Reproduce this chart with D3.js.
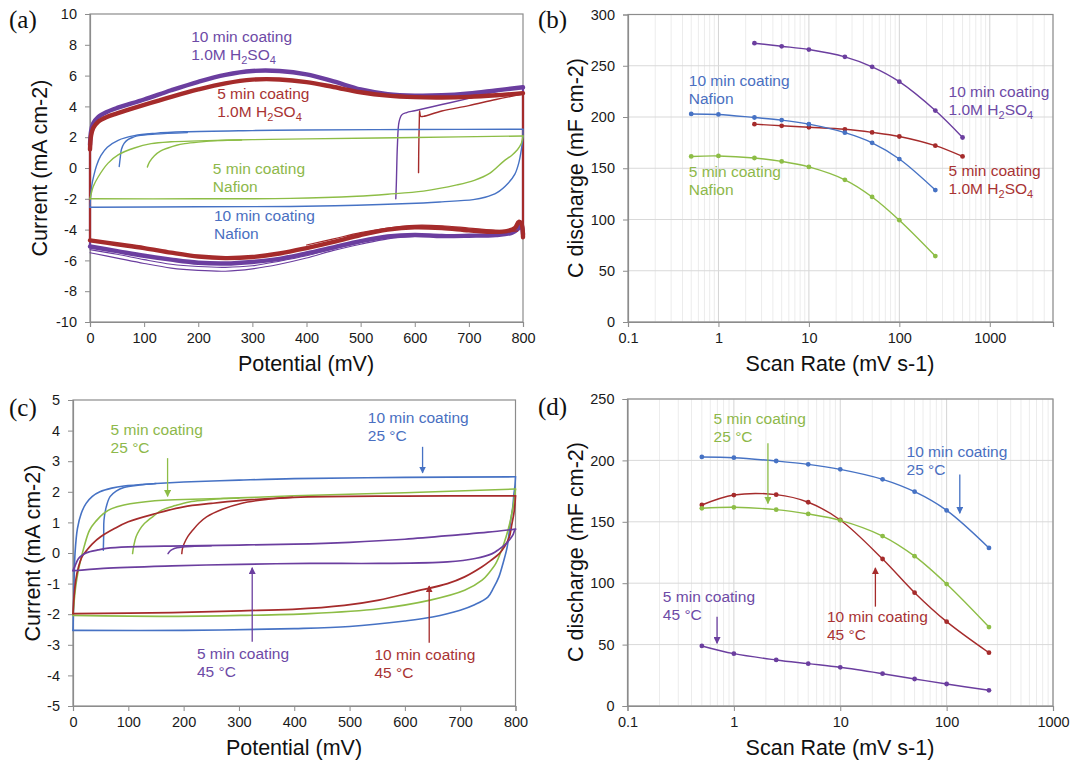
<!DOCTYPE html>
<html><head><meta charset="utf-8">
<script src="https://cdn.jsdelivr.net/npm/d3@7"></script>
<style>
body{margin:0;background:#fff}
svg{display:block}
text{font-family:"Liberation Sans",Arial,Helvetica,sans-serif}
</style>
</head><body>
<svg id="chart" width="1074" height="763"></svg>
<script>
// ---------------- DATA ----------------
// Panel (a): CV curves, [potential mV, current mA cm-2]
const a_purpleLoop = [[0,1.5],[2,2.4],[6,2.9],[15,3.3],[30,3.62],[50,3.9],[100,4.45],[150,5.05],[200,5.6],[250,6.05],[300,6.3],[350,6.3],[400,6.08],[450,5.62],[500,5.1],[550,4.8],[600,4.7],[650,4.72],[700,4.84],[750,5.04],[800,5.24],[800,-4.3],[797,-3.7],[792,-3.9],[780,-4.2],[750,-4.35],[700,-4.4],[650,-4.42],[600,-4.35],[550,-4.45],[500,-4.75],[450,-5.15],[400,-5.55],[350,-5.9],[300,-6.1],[250,-6.2],[200,-6.15],[150,-5.95],[100,-5.7],[50,-5.4],[0,-5.1],[0,1.5]];
const a_purpleOuter1 = [[0,-5.5],[50,-5.85],[100,-6.2],[150,-6.5],[200,-6.65],[250,-6.7],[300,-6.55],[350,-6.25],[400,-5.85],[450,-5.35],[500,-4.95],[550,-4.6],[600,-4.45],[650,-4.45]];
const a_purpleOuter2 = [[0,-5.3],[50,-5.6],[100,-5.95],[150,-6.25],[200,-6.4],[250,-6.45],[300,-6.35],[350,-6.05],[400,-5.7],[450,-5.25],[500,-4.85]];
const a_purpleStart = [[565,-2.0],[566,-1],[568,1.5],[571,3.0],[576,3.45],[585,3.6],[600,3.72],[650,4.12],[700,4.52],[750,4.95],[800,5.25]];
const a_redLoop = [[0,1.2],[2,2.1],[6,2.6],[15,3.0],[30,3.3],[50,3.55],[100,4.1],[150,4.62],[200,5.1],[250,5.5],[300,5.74],[350,5.75],[400,5.58],[450,5.26],[500,4.92],[550,4.7],[600,4.6],[650,4.58],[700,4.62],[750,4.72],[800,4.86],[800,-4.5],[797,-3.6],[792,-3.5],[785,-3.9],[770,-4.1],[750,-4.15],[700,-4.05],[650,-3.9],[600,-3.85],[550,-4.0],[500,-4.35],[450,-4.8],[400,-5.2],[350,-5.55],[300,-5.78],[250,-5.85],[200,-5.75],[150,-5.5],[100,-5.2],[50,-4.95],[0,-4.7],[0,1.2]];
const a_redOuter = [[400,-5.0],[450,-4.6],[500,-4.2],[550,-3.9],[600,-3.72],[650,-3.75],[700,-3.9],[750,-4.05],[790,-4.1]];
const a_redStart = [[607,-0.3],[607.5,1.5],[608.5,3.2],[609,3.7],[611,3.35],[616,3.35],[650,3.7],[700,4.05],[750,4.45],[800,4.8]];
const a_blueLoop = [[0,-2.55],[1,-1.9],[3,-1.2],[7,-0.5],[12,0.15],[20,0.8],[32,1.35],[52,1.8],[82,2.1],[120,2.25],[175,2.35],[300,2.43],[400,2.47],[600,2.5],[800,2.52],[800,2.0],[797,1.2],[792,0.3],[785,-0.4],[773,-0.97],[752,-1.6],[730,-1.9],[708,-2.05],[650,-2.2],[616,-2.27],[493,-2.42],[370,-2.5],[200,-2.52],[0,-2.55]];
const a_blueStart = [[54,0.1],[56,0.7],[58,1.2],[63,1.6],[70,1.84],[80,2.0],[90,2.1],[120,2.2],[180,2.3]];
const a_greenLoop = [[0,-2.0],[2,-1.7],[6,-1.2],[14.8,-0.6],[33,0.3],[52,0.85],[82,1.3],[113,1.58],[150,1.7],[200,1.76],[300,1.84],[400,1.89],[600,1.98],[800,2.08],[797,1.6],[790,1.2],[780,0.85],[764,0.43],[739,-0.33],[710,-0.8],[678,-1.1],[616,-1.5],[550,-1.7],[493,-1.83],[370,-1.97],[200,-2.0],[0,-2.0]];
const a_greenStart = [[106,0.06],[110,0.4],[119,0.8],[130,1.1],[144,1.3],[160,1.48],[175,1.58],[200,1.68],[236,1.78],[280,1.82]];

// Panel (c): CV curves
const c_blueLoop = [[0,-2.53],[1,-1.8],[2,-0.9],[3.7,0],[8,0.8],[15,1.3],[23.7,1.62],[35,1.85],[48.6,2.0],[70,2.12],[92,2.19],[150,2.27],[200,2.32],[300,2.38],[400,2.43],[600,2.47],[800,2.49],[799,2.2],[797,1.9],[795,1.5],[790,0.9],[785,0.2],[778,-0.3],[770,-0.78],[760,-1.15],[750,-1.44],[725,-1.7],[700,-1.87],[650,-2.09],[600,-2.22],[500,-2.4],[400,-2.47],[200,-2.53],[0,-2.53]];
const c_blueStart = [[54.8,0.09],[55.5,0.6],[56,1.07],[60,1.5],[67,1.84],[78,2.02],[92,2.14],[120,2.22],[150,2.27]];
const c_greenLoop = [[0,-2.04],[3,-1.4],[6,-0.95],[11,-0.45],[20,0.2],[30,0.75],[42,1.05],[55,1.29],[70,1.45],[92,1.57],[148,1.71],[200,1.75],[300,1.8],[400,1.87],[600,1.97],[800,2.09],[798,1.8],[795.6,1.51],[790,1.0],[783,0.53],[775,0.1],[764.5,-0.34],[752,-0.65],[739.6,-0.89],[708,-1.22],[646,-1.54],[553,-1.82],[428,-1.98],[304,-2.04],[179,-2.07],[0,-2.04]];
const c_greenStart = [[107.7,-0.02],[110,0.25],[114,0.53],[120,0.75],[129.5,0.97],[145,1.2],[160.6,1.4],[185,1.55],[210,1.67],[240,1.73],[272,1.78],[300,1.8]];
const c_redLoop = [[0,-1.98],[2,-1.4],[5,-0.89],[10,-0.45],[17,-0.1],[25,0.09],[35,0.3],[50,0.53],[75,0.8],[100,1.02],[150,1.29],[200,1.51],[250,1.62],[300,1.71],[400,1.82],[600,1.86],[800,1.87],[799,1.6],[797,1.29],[793,0.9],[789,0.53],[780,0.2],[770.7,-0.02],[755,-0.25],[739.6,-0.45],[708,-0.78],[677,-1.0],[615,-1.27],[553,-1.54],[490.6,-1.71],[397,-1.84],[304,-1.89],[179,-1.95],[0,-1.98]];
const c_redStart = [[196.7,-0.02],[198,0.15],[201,0.31],[208,0.55],[216.6,0.75],[228,0.98],[241.5,1.18],[270,1.43],[303.8,1.62],[350,1.75],[397,1.82]];
const c_purpleLoop = [[0,-0.58],[1.5,-0.5],[3,-0.45],[6,-0.32],[10,-0.18],[20,-0.03],[30,0.04],[45,0.1],[60,0.15],[100,0.2],[200,0.23],[300,0.26],[400,0.29],[500,0.35],[600,0.45],[700,0.6],[750,0.68],[800,0.78],[798,0.72],[795.6,0.6],[790,0.45],[783,0.31],[770,0.12],[758,-0.02],[727,-0.18],[677,-0.29],[553,-0.34],[428,-0.34],[304,-0.37],[179,-0.42],[55,-0.5],[0,-0.58]];
const c_purpleStart = [[171.8,-0.02],[175,0.06],[179,0.11],[188,0.17],[198,0.2],[220,0.22],[250,0.24]];

// Panels (b), (d): scan rate vs C discharge
const scanRates = [0.5,1,2.5,5,10,25,50,100,250,500];
const ratesLow = scanRates.slice(0,9);
const ratesHigh = scanRates.slice(2);
const b_nafion10 = [203,202.5,199.5,197,193,184.7,174.8,159,128.7];
const b_nafion5  = [161.5,162,160,156.7,151.3,138.7,122,99.3,64.3];
const b_acid10   = [272,269,265.8,258.7,249,234.5,206.3,180];
const b_acid5    = [193,191.4,190,188,185,181,172,161.5];
const d_min10_25 = [202.8,202.2,199.5,196.8,192.7,184.6,174.5,159.3,128.7];
const d_min10_45 = [163.7,171.8,172.1,165.9,151.5,119.7,92.3,68.7,43.4];
const d_min5_25  = [161,161.8,159.9,156.4,151.2,138.4,122,99.3,64.3];
const d_min5_45  = [48.9,42.6,37.5,34.5,31.5,26.3,22,17.9,12.8];

const cvTicksX = [0,100,200,300,400,500,600,700,800];
const aTicksY = [-10,-8,-6,-4,-2,0,2,4,6,8,10];
const cTicksY = [-5,-4,-3,-2,-1,0,1,2,3,4,5];
const bTicksY = [0,50,100,150,200,250,300];
const dTicksY = [0,50,100,150,200,250];
const logTicksX = [0.1,1,10,100,1000];

// ---------------- STYLE ----------------
const COL = {blue:"#4672c4", green:"#8dbd46", purple:"#6b3e9f", red:"#a52b2b"};
const TXT = {blue:"#4a6fc1", green:"#8db84a", purple:"#6d4aa6", red:"#a83333"};
const svg = d3.select("#chart");

const defs = svg.append("defs");
Object.entries(COL).forEach(([k,c])=>{
  defs.append("marker").attr("id","ah-"+k).attr("viewBox","0 0 10 10")
    .attr("refX",9).attr("refY",5).attr("markerWidth",7).attr("markerHeight",7)
    .attr("markerUnits","userSpaceOnUse").attr("orient","auto")
    .append("path").attr("d","M0,0 L10,5 L0,10 z").attr("fill",c);
});

function panel(p){
  const g = svg.append("g");
  const x = p.log ? d3.scaleLog().domain(p.xd).range([p.l,p.r]) : d3.scaleLinear().domain(p.xd).range([p.l,p.r]);
  const y = d3.scaleLinear().domain(p.yd).range([p.b,p.t]);
  if (p.grid){
    const minor=[];
    for (let e=-1;e<=3;e++) for (let k=1;k<10;k++){const v=+(k*Math.pow(10,e)).toPrecision(3); if(v>p.xd[0] && v<=p.xd[1]) minor.push(v);}
    g.append("g").selectAll("line").data(minor).join("line")
      .attr("x1",d=>x(d)).attr("x2",d=>x(d)).attr("y1",p.t).attr("y2",p.b)
      .attr("stroke",d=>logTicksX.includes(d)?"#d4d4d4":"#ececec").attr("stroke-width",1);
    g.append("g").selectAll("line").data(p.yTicks).join("line")
      .attr("x1",p.l).attr("x2",p.r).attr("y1",d=>y(d)).attr("y2",d=>y(d))
      .attr("stroke","#d9d9d9").attr("stroke-width",1);
  }
  g.append("rect").attr("x",p.l).attr("y",p.t).attr("width",p.r-p.l).attr("height",p.b-p.t)
    .attr("fill","none").attr("stroke","#8c8c8c").attr("stroke-width",1.2);
  const ax = g.append("g").attr("transform",`translate(0,${p.b})`)
    .call(d3.axisBottom(x).tickValues(p.xTicks).tickSize(5).tickPadding(6).tickFormat(d=>String(d)));
  const ay = g.append("g").attr("transform",`translate(${p.l},0)`)
    .call(d3.axisLeft(y).tickValues(p.yTicks).tickSize(5).tickPadding(8).tickFormat(d=>String(d)));
  [ax,ay].forEach(a=>{
    a.select(".domain").attr("stroke","#8c8c8c").attr("stroke-width",1.2);
    a.selectAll(".tick line").attr("stroke","#8c8c8c");
    a.selectAll(".tick text").attr("font-size",14.5).attr("fill","#1a1a1a")
      .style("font-family",'"Liberation Sans",Arial,sans-serif');
  });
  svg.append("text").attr("x",p.xtx).attr("y",p.xty).attr("text-anchor","middle")
    .attr("font-size",21.5).attr("fill","#111").text(p.xtitle);
  svg.append("text").attr("transform",`translate(${p.ytx},${p.yty}) rotate(-90)`).attr("text-anchor","middle")
    .attr("font-size",21.5).attr("fill","#111").text(p.ytitle);
  svg.append("text").attr("x",p.labx).attr("y",p.laby).attr("font-size",25)
    .style("font-family",'"Liberation Serif","Times New Roman",serif').attr("fill","#111").text(p.label);
  return {g,x,y};
}

// split a loop into runs of monotone potential so the vertex corners stay sharp
function pieces(data){
  const out=[]; let cur=[data[0]]; let s=null;
  for (let i=1;i<data.length;i++){
    const dx=data[i][0]-data[i-1][0]; const sg=dx>0?1:dx<0?-1:0;
    if (s===null || sg===s){cur.push(data[i]); s=sg;}
    else {out.push({s,pts:cur}); cur=[data[i-1],data[i]]; s=sg;}
  }
  out.push({s,pts:cur});
  return out;
}

function cvLine(P, data, color, w, wv){
  const line = d3.line().x(d=>P.x(d[0])).y(d=>P.y(d[1])).curve(d3.curveCatmullRom.alpha(0.5));
  pieces(data).forEach(pc=>{
    P.g.append("path").attr("d",line(pc.pts)).attr("fill","none").attr("stroke",color)
      .attr("stroke-width", pc.s===0 ? (wv||w) : w).attr("stroke-linejoin","round").attr("stroke-linecap","round");
  });
}

function series(P, xs, ys, color){
  const pts = xs.map((v,i)=>[v,ys[i]]);
  const line = d3.line().x(d=>P.x(d[0])).y(d=>P.y(d[1])).curve(d3.curveCatmullRom.alpha(0.5));
  P.g.append("path").attr("d",line(pts)).attr("fill","none").attr("stroke",color).attr("stroke-width",1.4);
  P.g.append("g").selectAll("circle").data(pts).join("circle")
    .attr("cx",d=>P.x(d[0])).attr("cy",d=>P.y(d[1])).attr("r",2.4).attr("fill",color);
}

function note(P, xv, yv, lines, color){
  const t = P.g.append("text").attr("font-size",15.5).attr("fill",color);
  lines.forEach((ln,i)=>{
    const x0 = P.x(xv), y0 = P.y(yv) + i*18;
    if (ln.includes("H2SO4")){
      const parts = [["1.0M H",0],["2",1],["SO",0],["4",1]];
      parts.forEach(([s,sub],j)=>{
        const ts = t.append("tspan").text(s).attr("font-size",sub?11:15.5);
        if (j===0) ts.attr("x",x0).attr("y",y0);
        else ts.attr("y", sub ? y0+4 : y0);
      });
    } else {
      t.append("tspan").attr("x",x0).attr("y",y0).text(ln);
    }
  });
}

function arrow(P, xv, y1, y2, key){
  P.g.append("line").attr("x1",P.x(xv)).attr("x2",P.x(xv)).attr("y1",P.y(y1)).attr("y2",P.y(y2))
    .attr("stroke",COL[key]).attr("stroke-width",1.3).attr("marker-end",`url(#ah-${key})`);
}

// ---------------- PANEL (a) ----------------
const A = panel({l:90,r:523,t:14,b:322,xd:[0,800],yd:[-10,10],xTicks:cvTicksX,yTicks:aTicksY,
  xtitle:"Potential (mV)",xtx:306,xty:371,ytitle:"Current (mA cm-2)",ytx:47,yty:168,label:"(a)",labx:9,laby:28});
cvLine(A,a_purpleOuter1,COL.purple,1.1);
cvLine(A,a_purpleOuter2,COL.purple,1.1);
cvLine(A,a_purpleLoop,COL.purple,4.4,2.2);
cvLine(A,a_purpleStart,COL.purple,1.4);
cvLine(A,a_redOuter,COL.red,1.2);
cvLine(A,a_redLoop,COL.red,4.4,2.2);
cvLine(A,a_redStart,COL.red,1.4);
cvLine(A,a_blueLoop,COL.blue,1.4);
cvLine(A,a_blueStart,COL.blue,1.4);
cvLine(A,a_greenLoop,COL.green,1.4);
cvLine(A,a_greenStart,COL.green,1.4);
note(A,187,8.2,["10 min coating","1.0M H2SO4"],TXT.purple);
note(A,235,4.5,["5 min coating","1.0M H2SO4"],TXT.red);
note(A,227,-0.4,["5 min coating","Nafion"],TXT.green);
note(A,229,-3.45,["10 min coating","Nafion"],TXT.blue);

// ---------------- PANEL (b) ----------------
const B = panel({l:628,r:1053,t:14.5,b:322,log:true,grid:true,xd:[0.1,5000],yd:[0,300],xTicks:logTicksX,yTicks:bTicksY,
  xtitle:"Scan Rate (mV s-1)",xtx:840,xty:371,ytitle:"C discharge (mF cm-2)",ytx:583,yty:168,label:"(b)",labx:538,laby:28});
series(B,ratesHigh,b_acid10,COL.purple);
series(B,ratesHigh,b_acid5,COL.red);
series(B,ratesLow,b_nafion10,COL.blue);
series(B,ratesLow,b_nafion5,COL.green);
note(B,0.47,230,["10 min coating","Nafion"],TXT.blue);
note(B,0.47,141.5,["5 min coating","Nafion"],TXT.green);
note(B,350,219.5,["10 min coating","1.0M H2SO4"],TXT.purple);
note(B,350,142,["5 min coating","1.0M H2SO4"],TXT.red);

// ---------------- PANEL (c) ----------------
const Cp = panel({l:73,r:515.5,t:400,b:706,xd:[0,800],yd:[-5,5],xTicks:cvTicksX,yTicks:cTicksY,
  xtitle:"Potential (mV)",xtx:294,xty:755,ytitle:"Current (mA cm-2)",ytx:40,yty:553,label:"(c)",labx:9,laby:416});
cvLine(Cp,c_blueLoop,COL.blue,1.6);
cvLine(Cp,c_blueStart,COL.blue,1.5);
cvLine(Cp,c_greenLoop,COL.green,1.6);
cvLine(Cp,c_greenStart,COL.green,1.5);
cvLine(Cp,c_redLoop,COL.red,1.7);
cvLine(Cp,c_redStart,COL.red,1.5);
cvLine(Cp,c_purpleLoop,COL.purple,1.7);
cvLine(Cp,c_purpleStart,COL.purple,1.5);
note(Cp,68,3.85,["5 min coating","25 °C"],TXT.green);
note(Cp,533,4.24,["10 min coating","25 °C"],TXT.blue);
note(Cp,224,-3.45,["5 min coating","45 °C"],TXT.purple);
note(Cp,545,-3.5,["10 min coating","45 °C"],TXT.red);
arrow(Cp,171,3.1,1.85,"green");
arrow(Cp,632,3.47,2.62,"blue");
arrow(Cp,324,-2.9,-0.48,"purple");
arrow(Cp,644,-2.93,-1.08,"red");

// ---------------- PANEL (d) ----------------
const D = panel({l:627.5,r:1053,t:399,b:706,log:true,grid:true,xd:[0.1,1000],yd:[0,250],xTicks:logTicksX,yTicks:dTicksY,
  xtitle:"Scan Rate (mV s-1)",xtx:840,xty:755,ytitle:"C discharge (mF cm-2)",ytx:583,yty:552,label:"(d)",labx:538,laby:415});
series(D,ratesLow,d_min10_25,COL.blue);
series(D,ratesLow,d_min10_45,COL.red);
series(D,ratesLow,d_min5_25,COL.green);
series(D,ratesLow,d_min5_45,COL.purple);
note(D,0.645,230,["5 min coating","25 °C"],TXT.green);
note(D,42,203,["10 min coating","25 °C"],TXT.blue);
note(D,0.215,85,["5 min coating","45 °C"],TXT.purple);
note(D,7.5,68,["10 min coating","45 °C"],TXT.red);
arrow(D,2.09,214,165,"green");
arrow(D,133,188.6,157,"blue");
arrow(D,0.695,72.7,51,"purple");
arrow(D,21.4,80.9,112.5,"red");
</script>
</body></html>
